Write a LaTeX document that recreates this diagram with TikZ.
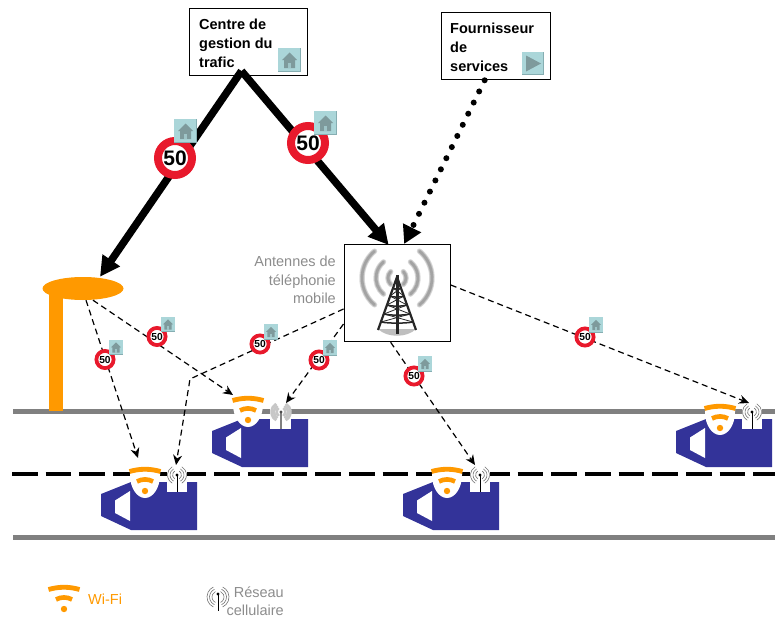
\documentclass[tikz,border=0pt]{standalone}
\usepackage{fontspec}
\setmainfont{Liberation Sans}
\usetikzlibrary{arrows.meta,calc,shapes.geometric}
\definecolor{roadgray}{HTML}{808080}
\definecolor{carblue}{HTML}{333399}
\definecolor{wifiorange}{HTML}{FF9900}
\definecolor{signred}{HTML}{E8192C}
\definecolor{icontint}{HTML}{ABD6D9}
\definecolor{iconedge}{HTML}{86AEB2}
\definecolor{iconhouse}{HTML}{7E9A9C}
\definecolor{labelgray}{HTML}{8C8C8C}
\tikzset{
  x=1pt,y=-1pt,
  road/.style={roadgray,line width=5pt},
  roaddash/.style={black,line width=4pt,dash pattern=on 25.7pt off 8pt},
  boxnode/.style={draw=black,line width=1.3pt,fill=white,anchor=north west,inner sep=0pt},
  boxtext/.style={anchor=north west,align=left,inner sep=0pt,font=\bfseries\fontsize{14.5}{19}\selectfont},
  graytext/.style={labelgray,inner sep=0pt,font=\fontsize{14.5}{18.5}\selectfont},
  heavy/.style={line width=7.5pt,-{Triangle[length=20pt,width=20pt]}},
  dotty/.style={line width=6pt,line cap=round,dash pattern=on 0pt off 12.4pt,-{Triangle[length=18pt,width=19pt]}},
  dashy/.style={line width=1.2pt,dash pattern=on 6pt off 4pt,-{Stealth[length=10pt,width=9pt]}},
  bigsign/.style={circle,draw=signred,fill=white,line width=8pt,minimum size=34pt,inner sep=0pt,font=\bfseries\fontsize{21}{21}\selectfont},
  smallsign/.style={circle,draw=signred,fill=white,line width=3.8pt,minimum size=17.2pt,inner sep=0pt,font=\bfseries\fontsize{10.2}{10.2}\selectfont},
  houseicon/.pic={
    \fill[iconedge] (0,0) rectangle (23,24);
    \fill[icontint] (0,0) rectangle (21.8,22.8);
    \fill[iconhouse] (11.5,4.5) -- (19,12) -- (17,12) -- (17,20) -- (6,20) -- (6,12) -- (4,12) -- cycle;
    \fill[icontint!70!iconhouse] (10,15) rectangle (13,20);
  },
  playicon/.pic={
    \fill[iconedge] (0,0) rectangle (22,23);
    \fill[icontint] (0,0) rectangle (20.8,21.8);
    \fill[iconhouse] (4,3.5) -- (19,11.5) -- (4,19.5) -- cycle;
  },
  carbody/.pic={
    \fill[carblue] (0,12) -- (30,0) -- (96,0) -- (96,48) -- (30,48) -- (0,34) -- cycle;
    \fill[white] (14,18.5) -- (29,9) -- (29,39) -- (14,31) -- cycle;
  },
  wifimark/.pic={
    \draw[wifiorange,line width=4.8pt] (-15.5,-19.5) .. controls (-5,-22.5) and (5,-22.5) .. (15.5,-19.5);
    \draw[wifiorange,line width=4.6pt] (-8,-9.5) .. controls (-3,-12.3) and (3,-12.3) .. (8,-9.5);
    \fill[wifiorange] (0,0) circle (3.2);
  },
  wifishield/.pic={
    \fill[white] (-15,-20) -- (15,-20) -- (15,-16) .. controls (15,-3) and (8,7) .. (0,7) .. controls (-8,7) and (-15,-3) .. (-15,-16) -- cycle;
  },
  antennamark/.pic={
    \foreach \r in {4.5,7,9.5}{
      \draw[black!55,line width=.6pt] (120:\r) arc[start angle=120,end angle=240,radius=\r];
      \draw[black!55,line width=.6pt] (60:\r) arc[start angle=60,end angle=-60,radius=\r];
    }
    \draw[black,line width=.9pt] (0,0) -- (0,17);
    \fill[black] (0,0) circle (1.7);
  },
  antennablur/.pic={
    \foreach \r in {4.5,7,9.5}{
      \draw[black!22,line width=2.6pt] (120:\r) arc[start angle=120,end angle=240,radius=\r];
      \draw[black!22,line width=2.6pt] (60:\r) arc[start angle=60,end angle=-60,radius=\r];
    }
    \draw[black!50,line width=1.8pt] (0,0) -- (0,17);
    \fill[black!70] (0,0) circle (1.7);
  },
  legendantenna/.pic={
    \foreach \r in {6,8.5,11}{
      \draw[black!55,line width=.6pt] ([shift={(0,3)}]115:\r) arc[start angle=115,end angle=245,radius=\r];
      \draw[black!55,line width=.6pt] ([shift={(0,3)}]65:\r) arc[start angle=65,end angle=-65,radius=\r];
    }
    \draw[black,line width=.9pt] (0,0) -- (0,17);
    \fill[black] (0,0) circle (1.7);
  },
  towerline/.style={line width=1.5pt,black!85},
}
\begin{document}
\begin{tikzpicture}
\useasboundingbox (0,0) rectangle (775,618);
% roads
\coordinate (r1a) at (13,411.5); \coordinate (r1b) at (775,411.5);
\coordinate (r2a) at (12,474); \coordinate (r2b) at (775,474);
\coordinate (r3a) at (13,537); \coordinate (r3b) at (775,537);
\draw[road] (r1a) -- (r1b);
\draw[roaddash] (r2a) -- (r2b);
\draw[road] (r3a) -- (r3b);
% lamp
\fill[wifiorange] (49,288) rectangle (63,411);
\node[ellipse,fill=wifiorange,minimum width=81pt,minimum height=23pt,inner sep=0pt] (lamp) at (83,288.5) {};
% boxes
\node[boxnode,minimum width=118pt,minimum height=67pt] (centre) at (189,8) {};
\node[boxnode,minimum width=109pt,minimum height=67pt] (fournisseur) at (441,12) {};
\node[boxnode,minimum width=106pt,minimum height=97pt] (towerbox) at (343.5,244) {};
\node[boxtext] (centretext) at (199,18.5) {Centre de\\gestion du\\trafic};
\node[boxtext] (fourntext) at (450,23) {Fournisseur\\de\\services};
\pic at (278,48) {houseicon};
\pic at (522,52) {playicon};
% tower
\coordinate (apex) at (397,278);
\begin{scope}[shift={(apex)}]
  \foreach \r/\s in {9/45,21/50,35/50}{
    \foreach \lw/\shade in {5.5/14,4/24,2.6/36}{
      \draw[line width=\lw pt,black!\shade,line cap=round] (180-\s:\r) arc[start angle=180-\s,end angle=180+\s,radius=\r];
      \draw[line width=\lw pt,black!\shade,line cap=round] (\s:\r) arc[start angle=\s,end angle=-\s,radius=\r];
    }
  }
  \fill[black!25] (-19,51) .. controls (-10,60) and (10,60) .. (19,51) -- cycle;
  \draw[towerline,line width=2.2pt] (0,-1) -- (-19,52);
  \draw[towerline,line width=2.2pt] (0,-1) -- (19,52);
  \draw[towerline,line width=3pt] (0,-3) -- (0,56);
  \foreach \y/\w in {10/4,18/7,27/10,36/13,44/16}{
    \draw[towerline] (-\w,\y) .. controls (-\w/2,\y+1.5) and (\w/2,\y+1.5) .. (\w,\y);
  }
  \draw[towerline,line width=.8pt] (-4,10) -- (7,18) -- (-10,27) -- (13,36) -- (-16,44);
  \draw[towerline,line width=.8pt] (4,10) -- (-7,18) -- (10,27) -- (-13,36) -- (16,44);
\end{scope}
\node[graytext,anchor=north east,align=right] (tlabel) at (336,256) {Antennes de\\téléphonie\\mobile};
% vehicles
\coordinate (car1) at (212,419); \coordinate (car2) at (101,482);
\coordinate (car3) at (403,482); \coordinate (car4) at (676,419);
\coordinate (w1) at (248,420); \coordinate (w2) at (145,491);
\coordinate (w3) at (447,491); \coordinate (w4) at (720,428);
\coordinate (a1) at (281,412); \coordinate (a2) at (177,475);
\coordinate (a3) at (480,475); \coordinate (a4) at (752,412);
\foreach \c in {car1,car2,car3,car4} \pic at (\c) {carbody};
\fill[white] ($(a1)+(-11,-9)$) rectangle ($(a1)+(10,17)$);
\foreach \c in {a2,a3,a4} \fill[white] ($(\c)+(-10,-9)$) rectangle ($(\c)+(10,17)$);
\foreach \c in {w1,w2,w3,w4} \pic at (\c) {wifishield};
\foreach \c in {w1,w2,w3,w4} \pic at (\c) {wifimark};
\pic at (a1) {antennablur};
\foreach \c in {a2,a3,a4} \pic at (\c) {antennamark};
% connectors
\coordinate (split) at (241.5,71);
\draw[heavy] (split) -- ($(lamp.north)+(17,0)$);
\draw[heavy] (split) -- ($(towerbox.north)+(-8.5,1)$);
\draw[dotty] ($(fournisseur.south)+(-11.5,0)$) -- ($(towerbox.north)+(7,0)$);
\draw[dashy] ($(lamp.south)+(3,0)$) -- ($(w2)+(-7,-33)$);
\draw[dashy] ($(lamp.south)+(10,0)$) -- ($(w1)+(-15,-25)$);
\coordinate (bend) at (190,379);
\draw[dashy] ($(towerbox.north west)+(0,65)$) -- (bend) -- ($(a2)+(-1,-10)$);
\draw[dashy] ($(towerbox.north west)+(0,80)$) -- ($(a1)+(5,-9)$);
\draw[dashy] ($(towerbox.south)+(-6.5,0)$) -- ($(a3)+(-5,-10)$);
\draw[dashy] (towerbox.north east |- 0,285) -- ($(a4)+(-3,-9)$);
% signs
\node[bigsign] (s1) at (175,158) {50};
\node[bigsign] (s2) at (308,143) {50};
\node[smallsign] (s3) at (105,359.5) {50};
\node[smallsign] (s4) at (157,336.5) {50};
\node[smallsign] (s5) at (260,344) {50};
\node[smallsign] (s6) at (319,360) {50};
\node[smallsign] (s7) at (414,376) {50};
\node[smallsign] (s8) at (585,337) {50};
\pic at (174,119) {houseicon};
\pic at (314,111) {houseicon};
\foreach \s in {s3,s4,s5,s6,s7,s8}
  \pic[scale=.65] at ($(\s)+(3.5,-20)$) {houseicon};
% legend
\coordinate (lw) at (64,609);
\coordinate (la) at (218,594);
\pic at (lw) {wifimark};
\pic at (la) {legendantenna};
\node[graytext,wifiorange,anchor=west] (wifilabel) at (88,599) {Wi-Fi};
\node[graytext,anchor=north east,align=right,font=\fontsize{14.5}{17.5}\selectfont] (cellabel) at (284,587) {Réseau\\cellulaire};
\end{tikzpicture}
\end{document}
